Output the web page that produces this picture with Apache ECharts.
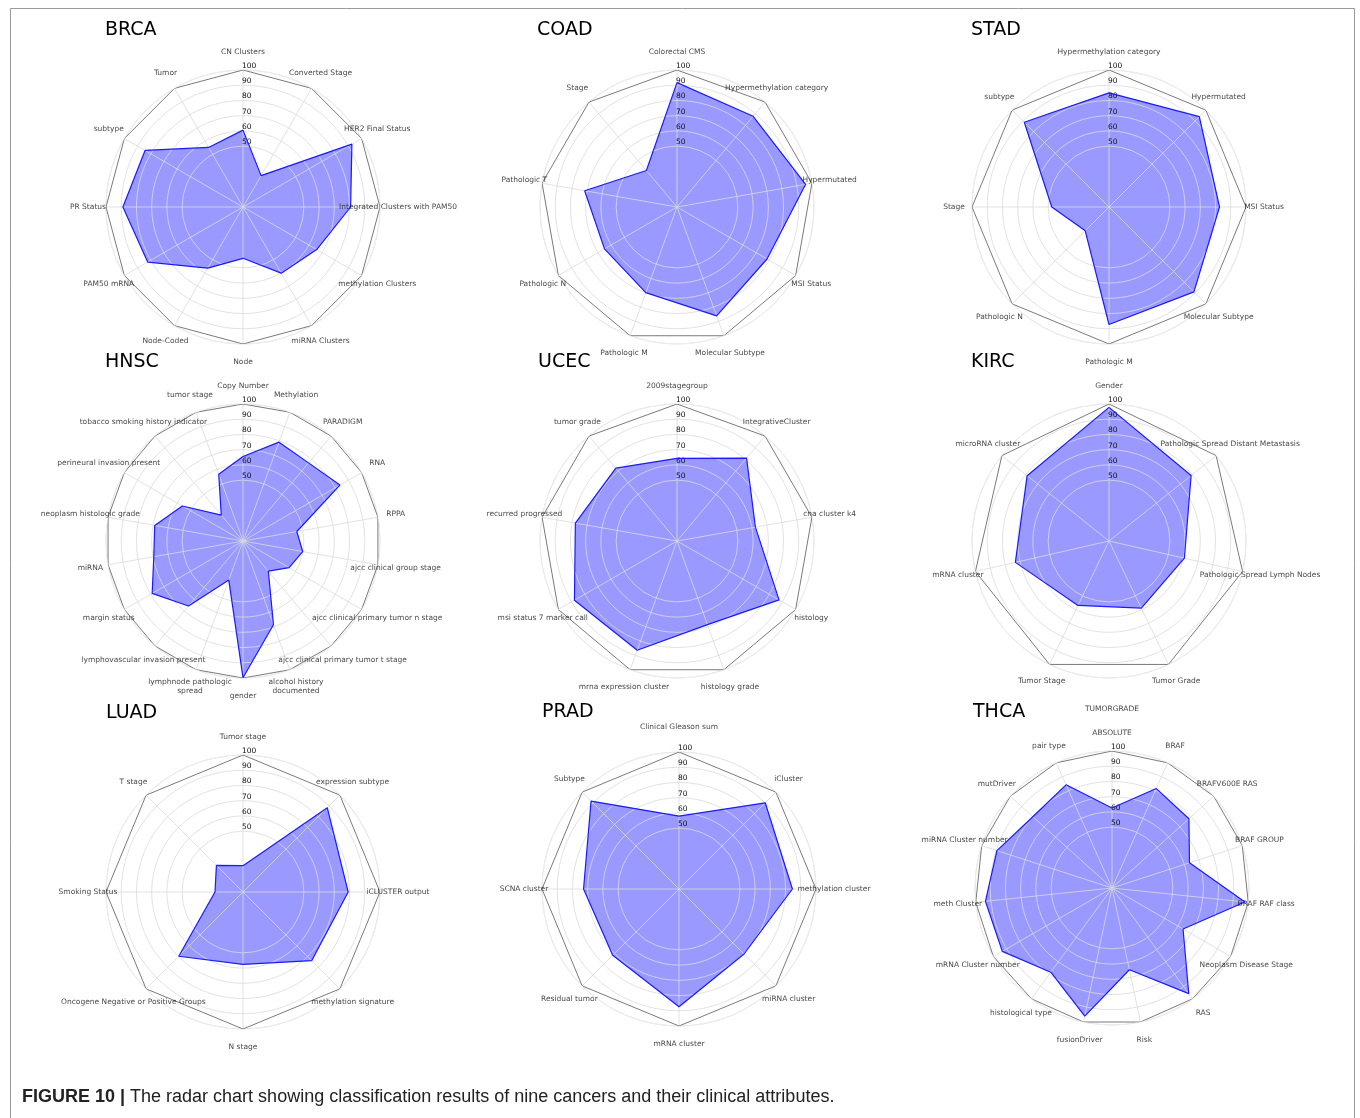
<!DOCTYPE html>
<html>
<head>
<meta charset="utf-8">
<script src="https://cdn.jsdelivr.net/npm/echarts/dist/echarts.min.js"></script>
<style>
  html, body { margin: 0; padding: 0; background: #fff; }
  #chart { width: 1360px; height: 1118px; }
</style>
</head>
<body>
<div id="chart"></div>
<script>
// radial scale of every panel
const rMin = 10;
const rMax = 100;
const ringTicks = [50, 60, 70, 80, 90, 100];

const brcaAttrs = ['CN Clusters', 'Converted Stage', 'HER2 Final Status', 'Integrated Clusters with PAM50',
  'methylation Clusters', 'miRNA Clusters', 'Node', 'Node-Coded', 'PAM50 mRNA', 'PR Status', 'subtype', 'Tumor'];
const brcaScores = [60.5, 33.8, 92.6, 80.7, 65.9, 60.2, 43.7, 56.4, 82.3, 88.9, 84.3, 55.2];

const coadAttrs = ['Colorectal CMS', 'Hypermethylation category', 'Hypermutated', 'MSI Status',
  'Molecular Subtype', 'Pathologic M', 'Pathologic N', 'Pathologic T', 'Stage'];
const coadScores = [91.7, 87.8, 95.8, 78.3, 86.1, 69.9, 65.0, 71.6, 41.3];

const stadAttrs = ['Hypermethylation category', 'Hypermutated', 'MSI Status', 'Molecular Subtype',
  'Pathologic M', 'Pathologic N', 'Stage', 'subtype'];
const stadScores = [85.0, 93.9, 82.6, 88.9, 87.2, 32.1, 47.6, 88.7];

const hnscAttrs = ['Copy Number', 'Methylation', 'PARADIGM', 'RNA', 'RPPA', 'ajcc clinical group stage',
  'ajcc clinical primary tumor n stage', 'ajcc clinical primary tumor t stage', 'alcohol history\ndocumented',
  'gender', 'lymphnode pathologic\nspread', 'lymphovascular invasion present', 'margin status', 'miRNA',
  'neoplasm histologic grade', 'perineural invasion present', 'tobacco smoking history indicator', 'tumor stage'];
const hnscScores = [65.5, 79.1, 77.0, 83.5, 45.9, 49.8, 45.0, 35.9, 68.5, 99.8, 37.3, 65.7, 78.9, 69.5, 68.9, 56.0, 32.2, 56.6];

const ucecAttrs = ['2009stagegroup', 'IntegrativeCluster', 'cna cluster k4', 'histology', 'histology grade',
  'mrna expression cluster', 'msi status 7 marker call', 'recurred progressed', 'tumor grade'];
const ucecScores = [64.3, 81.1, 62.3, 87.4, 68.5, 86.4, 87.8, 77.8, 72.5];

const kircAttrs = ['Gender', 'Pathologic Spread Distant Metastasis', 'Pathologic Spread Lymph Nodes',
  'Tumor Grade', 'Tumor Stage', 'mRNA cluster', 'microRNA cluster'];
const kircScores = [97.8, 79.0, 60.8, 58.9, 57.0, 73.1, 78.8];

const luadAttrs = ['Tumor stage', 'expression subtype', 'iCLUSTER output', 'methylation signature', 'N stage',
  'Oncogene Negative or Positive Groups', 'Smoking Status', 'T stage'];
const luadScores = [27.3, 88.3, 79.1, 73.8, 57.5, 69.7, 28.4, 34.7];

const pradAttrs = ['Clinical Gleason sum', 'iCluster', 'methylation cluster', 'miRNA cluster', 'mRNA cluster',
  'Residual tumor', 'SCNA cluster', 'Subtype'];
const pradScores = [57.9, 90.1, 84.5, 70.4, 87.3, 71.6, 72.7, 91.7];

const thcaAttrs = ['ABSOLUTE', 'BRAF', 'BRAFV600E RAS', 'BRAF GROUP', 'BRAF RAF class', 'Neoplasm Disease Stage',
  'RAS', 'Risk', 'fusionDriver', 'histological type', 'mRNA Cluster number', 'meth Cluster',
  'miRNA Cluster number', 'mutDriver', 'pair type'];
const thcaScores = [62.6, 81.5, 78.0, 63.5, 97.8, 63.9, 95.8, 64.9, 96.0, 78.4, 93.2, 93.6, 89.5, 80.0, 84.2];

const captionBold = 'FIGURE 10 |';
const captionText = 'The radar chart showing classification results of nine cancers and their clinical attributes.';

// layout
const FONT = 'DejaVu Sans';
const CAPTION_FONT = 'Liberation Sans, Arial';
const RADIUS = 137;
const LABEL_PX = 155;
const panels = [
  { name: 'BRCA', attrs: brcaAttrs, scores: brcaScores, center: [243, 207], title: [105, 25] },
  { name: 'COAD', attrs: coadAttrs, scores: coadScores, center: [677, 207], title: [537, 25] },
  { name: 'STAD', attrs: stadAttrs, scores: stadScores, center: [1109, 207], title: [971, 25] },
  { name: 'HNSC', attrs: hnscAttrs, scores: hnscScores, center: [243, 541], title: [105, 357] },
  { name: 'UCEC', attrs: ucecAttrs, scores: ucecScores, center: [677, 541], title: [538, 357] },
  { name: 'KIRC', attrs: kircAttrs, scores: kircScores, center: [1109, 541], title: [971, 357] },
  { name: 'LUAD', attrs: luadAttrs, scores: luadScores, center: [243, 892], title: [106, 708] },
  { name: 'PRAD', attrs: pradAttrs, scores: pradScores, center: [679, 889], title: [542, 707], labelPx: { 0: 162 } },
  { name: 'THCA', attrs: thcaAttrs, scores: thcaScores, center: [1112, 888], title: [973, 707],
    extra: [{ name: 'TUMORGRADE', px: 179, angle: 0 }] }
];

function pxToVal(px) {
  return rMin + px / RADIUS * (rMax - rMin);
}

let allTicks = [];
for (let v = rMin; v <= rMax; v += 10) allTicks.push(v);
const ringColors = allTicks.map(v => ringTicks.indexOf(v) >= 0 ? '#dadada' : 'rgba(0,0,0,0)');

let option = {
  animation: false,
  backgroundColor: '#fff',
  title: [], polar: [], angleAxis: [], radiusAxis: [], series: [],
  graphic: [
    { type: 'rect', left: 8, top: 6, shape: { width: 1344, height: 1140 },
      style: { fill: 'none', stroke: '#9a9a9a', lineWidth: 1 }, silent: true },
    { type: 'text', left: 22, top: 1088,
      style: {
        text: '{b|' + captionBold + '} ' + captionText,
        fontFamily: CAPTION_FONT, fontSize: 18, fill: '#222',
        rich: { b: { fontWeight: 'bold', fontFamily: CAPTION_FONT, fontSize: 18, fill: '#222' } }
      } }
  ]
};

panels.forEach(function(p, i) {
  let n = p.attrs.length;
  let step = 360 / n;
  let angles = p.attrs.map((_, k) => k * step);
  let angLoop = angles.concat([360]);
  let scoreLoop = p.scores.concat([p.scores[0]]);

  option.title.push({
    text: p.name, left: p.title[0], top: p.title[1] - 4, padding: 0,
    textStyle: { fontFamily: FONT, fontSize: 19, fontWeight: 'normal', color: '#000' }
  });
  option.polar.push({ center: p.center, radius: RADIUS });
  option.angleAxis.push({
    polarIndex: i, type: 'value', min: 0, max: 360, interval: step,
    startAngle: 90, clockwise: true, z: 3,
    axisLine: { show: true, lineStyle: { color: '#ececec', width: 1 } },
    axisTick: { show: false }, axisLabel: { show: false },
    splitLine: { show: true, lineStyle: { color: '#dadada', width: 0.8 } }
  });
  option.radiusAxis.push({
    polarIndex: i, type: 'value', min: rMin, max: rMax, interval: 10, z: 3,
    axisLine: { show: false }, axisTick: { show: false },
    axisLabel: {
      show: true, formatter: v => ringTicks.indexOf(v) >= 0 ? String(v) : '',
      fontFamily: FONT, fontSize: 7.5, color: '#111', margin: 1, align: 'left', verticalAlign: 'bottom'
    },
    splitLine: { show: true, lineStyle: { color: ringColors, width: 0.8 } }
  });

  // outer polygon frame
  option.series.push({
    type: 'line', coordinateSystem: 'polar', polarIndex: i, clip: false, silent: true,
    symbol: 'none', z: 4,
    lineStyle: { color: '#7a7a7a', width: 1 },
    data: angLoop.map(a => [rMax, a])
  });
  // filled area
  option.series.push({
    type: 'line', coordinateSystem: 'polar', polarIndex: i, clip: false, silent: true,
    symbol: 'none', z: 1,
    lineStyle: { width: 0 },
    areaStyle: { color: 'rgba(0,0,255,0.4)', opacity: 1 },
    data: scoreLoop.map((v, k) => [v, angLoop[k]])
  });
  // outline
  option.series.push({
    type: 'line', coordinateSystem: 'polar', polarIndex: i, clip: false, silent: true,
    symbol: 'none', z: 5,
    lineStyle: { color: '#1a1aff', width: 1.2 },
    data: scoreLoop.map((v, k) => [v, angLoop[k]])
  });
  // attribute names
  let names = p.attrs.map(function(a, k) {
    let px = (p.labelPx && p.labelPx[k]) || LABEL_PX;
    return { name: a, value: [pxToVal(px), angles[k]] };
  });
  (p.extra || []).forEach(e => names.push({ name: e.name, value: [pxToVal(e.px), e.angle] }));
  option.series.push({
    type: 'scatter', coordinateSystem: 'polar', polarIndex: i, clip: false, silent: true,
    symbolSize: 1, z: 6,
    itemStyle: { color: 'rgba(0,0,0,0)' },
    label: {
      show: true, position: 'inside', formatter: '{b}', fontFamily: FONT, fontSize: 7.5,
      color: '#111', lineHeight: 9, align: 'center', verticalAlign: 'middle'
    },
    data: names
  });
});

let chart = echarts.init(document.getElementById('chart'));
chart.setOption(option);
</script>
</body>
</html>
